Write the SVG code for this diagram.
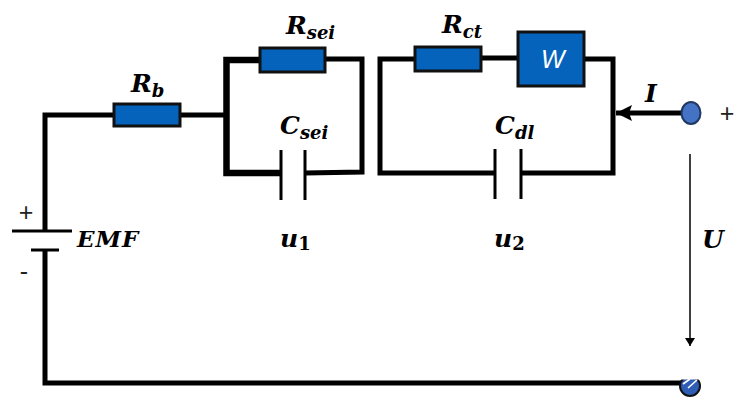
<svg xmlns="http://www.w3.org/2000/svg" width="750" height="409" viewBox="0 0 750 409">
<style>
.w{fill:none;stroke:#000;stroke-width:5;stroke-linejoin:miter}
.t{fill:none;stroke:#000;stroke-width:3}
.r{fill:#0563BB;stroke:#111;stroke-width:3}
.m{font-family:"DejaVu Serif","Liberation Serif",serif;font-style:italic;font-weight:bold;fill:#000}
.l{font-size:25px}
.s{font-size:18px}
.n{font-size:18px;font-style:normal}
.p{font-family:"Liberation Sans",Arial,sans-serif;fill:#222;text-anchor:middle}
</style>
<defs>
<marker id="big" markerUnits="userSpaceOnUse" markerWidth="18" markerHeight="20" refX="16" refY="10" orient="auto"><path d="M0 2 L16 10 L0 18 L3 10 Z" fill="#000"/></marker>
<marker id="small" markerUnits="userSpaceOnUse" markerWidth="10" markerHeight="12" refX="8" refY="6" orient="auto"><path d="M0 1 L8 6 L0 11 Z" fill="#000"/></marker>
</defs>
<g id="connectors">
<path class="w" d="M45 250V383H683"/>
<path class="w" d="M45 231V115H114"/>
<path class="w" d="M181 115H224"/>
<path class="w" style="stroke-width:6.5" d="M259 60H226.500V173H281"/>
<path class="w" d="M325 59H362V172L305 173"/>
<path class="w" d="M415 59H380V173H495"/>
<path class="w" d="M482 58H518"/>
<path class="w" d="M585 59H613V173H521"/>
<path class="w" d="M681 113H616" marker-end="url(#big)"/>
<path d="M690 154V346" fill="none" stroke="#111" stroke-width="1.6" marker-end="url(#small)"/>
</g>
<g id="battery">
<path class="t" d="M12 231H72M31 250H59"/>
<text class="p" x="26" y="221" font-size="25">+</text>
<text class="p" x="24" y="280" font-size="25">-</text>
<text class="m" x="77" y="247" style="font-size:23px;letter-spacing:1px">EMF</text>
</g>
<g id="Rb"><rect class="r" x="114" y="104" width="66" height="22"/>
<text class="m l" x="131" y="92">R<tspan class="s" dy="5">b</tspan></text></g>
<g id="Rsei"><rect class="r" x="260" y="48" width="65" height="24"/>
<text class="m l" x="286" y="34">R<tspan class="s" dy="5">sei</tspan></text></g>
<g id="Csei"><path class="t" d="M281 150V200M305 150V200"/>
<text class="m l" x="280" y="134">C<tspan class="s" dy="5">sei</tspan></text></g>
<g id="Rct"><rect class="r" x="415" y="47" width="66" height="24"/>
<text class="m l" x="442" y="33">R<tspan class="s" dy="5">ct</tspan></text></g>
<g id="W"><rect class="r" x="518" y="32" width="66" height="54"/>
<text x="541" y="68" style="font-family:'Liberation Sans',Arial,sans-serif;font-style:italic;font-size:25px;fill:#fff">W</text></g>
<g id="Cdl"><path class="t" d="M495 149V199M521 149V199"/>
<text class="m l" x="495" y="134">C<tspan class="s" dy="5">dl</tspan></text></g>
<g id="u1"><text class="m l" x="280" y="247">u<tspan class="n" dy="3">1</tspan></text></g>
<g id="u2"><text class="m l" x="494" y="247">u<tspan class="n" dy="3">2</tspan></text></g>
<g id="I"><text class="m l" x="645" y="102">I</text></g>
<g id="U"><text class="m l" x="702" y="248">U</text></g>
<g id="terminal-top"><ellipse cx="691" cy="113" rx="9.500" ry="11" fill="#4472C4" stroke="#1F3864" stroke-width="2"/>
<text class="p" x="727" y="122" font-size="25">+</text></g>
<g id="terminal-bottom"><circle cx="690" cy="386" r="10" fill="#2F5DB5" stroke="#111" stroke-width="2"/>
<rect x="678" y="370" width="26" height="9.500" fill="#fff"/>
<path d="M688 388L697 380M683 384L690 379" stroke="#fff" stroke-width="1.600" fill="none"/></g>
</svg>
